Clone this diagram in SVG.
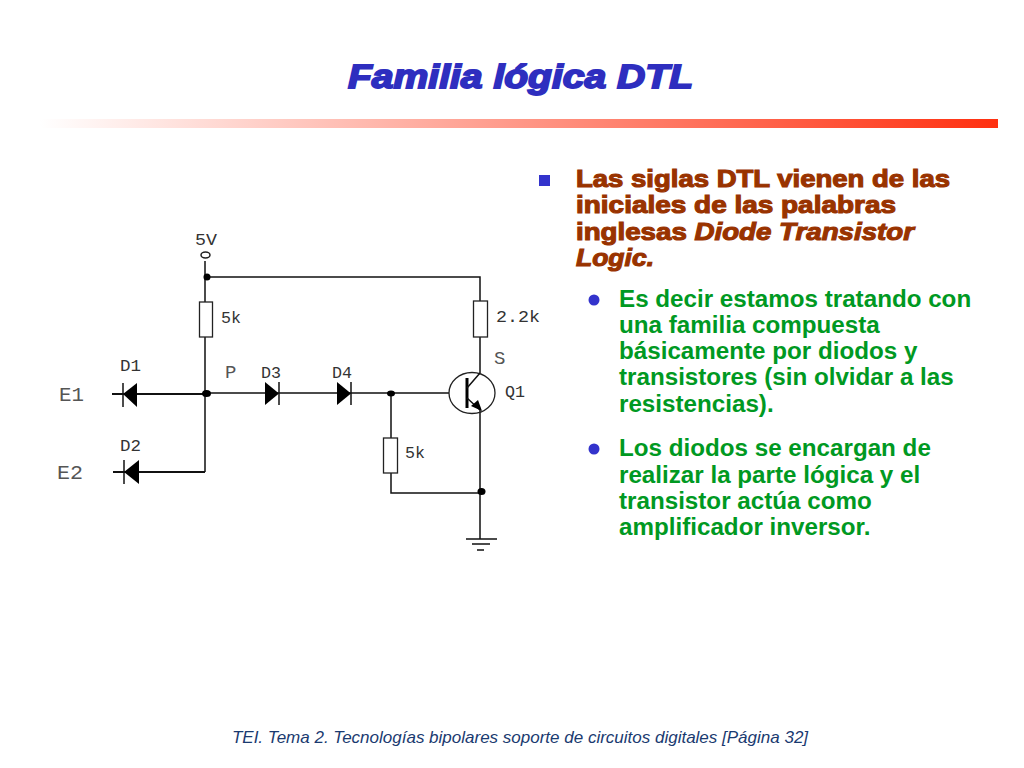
<svg xmlns="http://www.w3.org/2000/svg" width="1024" height="768" viewBox="0 0 1024 768">
<style>
.w{fill:none;stroke:#111;stroke-width:1.5}
.wt{fill:none;stroke:#111;stroke-width:2}
.r{fill:#fff;stroke:#222;stroke-width:1.3}
.d{fill:#000;stroke:none}
.l{font-family:"Liberation Mono",monospace;fill:#333;font-size:16px}
.th{fill:#555}
.b{font-family:"Liberation Sans",Arial,sans-serif;font-weight:700;font-size:24.2px}
.br{fill:#993300;stroke:#993300;stroke-width:1.1;font-size:24px}
.gr{fill:#009922}
.bu{fill:#3333cc}
</style>
<defs>
<linearGradient id="g" x1="0" x2="1" y1="0" y2="0"><stop offset="0" stop-color="#fff"/><stop offset="1" stop-color="#ff3010"/></linearGradient>
</defs>
<rect width="1024" height="768" fill="#fff"/>
<rect x="40" y="119" width="958" height="9" fill="url(#g)"/>
<text x="348" y="88" textLength="345" lengthAdjust="spacingAndGlyphs" font-family="Liberation Sans,Arial,sans-serif" font-weight="700" font-style="italic" font-size="33" fill="#2e2ebf" stroke="#2e2ebf" stroke-width="1.8">Familia lógica DTL</text>
<g id="connectors">
<path class="w" d="M205 261V302M205 337V393M205 472V393"/>
<path class="w" d="M205 277H480V301M480 337V373M480 410V539"/>
<path class="wt" d="M112 394H206M113 472H205"/>
<path class="w" d="M206 393H449M391 393V438M391 473V493H481"/>
</g>
<g id="vcc"><ellipse cx="205.500" cy="255" rx="4.500" ry="3" fill="#fff" stroke="#222" stroke-width="1.500"/><text class="l" x="206" y="245" text-anchor="middle" textLength="22" lengthAdjust="spacingAndGlyphs">5V</text><circle cx="207" cy="277" r="3.500" class="d"/></g>
<g id="R1"><rect class="r" x="199.500" y="302" width="13" height="35"/><text class="l" x="221" y="323" textLength="20" lengthAdjust="spacingAndGlyphs">5k</text></g>
<g id="D1"><path class="d" d="M123 394L137 383V407Z"/><path class="w" d="M123 383V407"/><text class="l" x="120" y="371" textLength="21" lengthAdjust="spacingAndGlyphs">D1</text></g>
<g id="D2"><path class="d" d="M124 472L139 460V484Z"/><path class="w" d="M124 460V484"/><text class="l" x="120" y="451" textLength="21" lengthAdjust="spacingAndGlyphs">D2</text></g>
<g id="E1"><text class="l th" x="59" y="401" style="font-size:20px" textLength="25" lengthAdjust="spacingAndGlyphs">E1</text></g>
<g id="E2"><text class="l th" x="57" y="479" style="font-size:20px" textLength="26" lengthAdjust="spacingAndGlyphs">E2</text></g>
<g id="P"><ellipse cx="206.500" cy="393.500" rx="4.500" ry="3.500" class="d"/><text class="l th" x="225" y="378" style="font-size:19px">P</text></g>
<g id="D3"><path class="d" d="M265 382L279 393.500L265 405Z"/><path class="w" d="M279 382V405"/><text class="l" x="261" y="378" textLength="20" lengthAdjust="spacingAndGlyphs">D3</text></g>
<g id="D4"><path class="d" d="M337 382L351 393.500L337 405Z"/><path class="w" d="M351 382V405"/><text class="l" x="332" y="378" textLength="20" lengthAdjust="spacingAndGlyphs">D4</text></g>
<g id="n1"><ellipse cx="391" cy="393.500" rx="4" ry="3" class="d"/></g>
<g id="R2"><rect class="r" x="383.500" y="438" width="14" height="35"/><text class="l" x="405" y="458" textLength="20" lengthAdjust="spacingAndGlyphs">5k</text></g>
<g id="R3"><rect class="r" x="473.500" y="301" width="14" height="36"/><text class="l" x="496" y="322" textLength="44" lengthAdjust="spacingAndGlyphs">2.2k</text></g>
<g id="S"><text class="l th" x="494" y="364" style="font-size:19px">S</text></g>
<g id="Q1"><ellipse cx="472" cy="393" rx="23" ry="20.500" fill="none" stroke="#222" stroke-width="1.300"/>
<path d="M467 378V408" stroke="#000" stroke-width="3" fill="none"/><path class="w" d="M467 388L480 373M467 398L480 410"/><path class="d" d="M482 411L471 406L478 400Z"/><text class="l" x="505" y="397" textLength="20" lengthAdjust="spacingAndGlyphs">Q1</text></g>
<g id="n2"><ellipse cx="481.500" cy="491.500" rx="4" ry="3.500" class="d"/></g>
<g id="gnd"><path class="w" d="M466 539H497M472 544H490M477 550H484"/></g>
<g id="bullet1"><rect class="bu" x="539" y="175" width="11" height="11"/>
<text class="b br" x="576" y="187" textLength="374" lengthAdjust="spacingAndGlyphs">Las siglas DTL vienen de las</text>
<text class="b br" x="576" y="213" textLength="320" lengthAdjust="spacingAndGlyphs">iniciales de las palabras</text>
<text class="b br" x="576" y="240" textLength="338" lengthAdjust="spacingAndGlyphs">inglesas <tspan font-style="italic">Diode Transistor</tspan></text>
<text class="b br" x="576" y="266" font-style="italic" textLength="78" lengthAdjust="spacingAndGlyphs">Logic.</text></g>
<g id="bullet2"><circle class="bu" cx="594" cy="300" r="5.500"/>
<text class="b gr" x="619" y="307">Es decir estamos tratando con</text>
<text class="b gr" x="619" y="333">una familia compuesta</text>
<text class="b gr" x="619" y="359">básicamente por diodos y</text>
<text class="b gr" x="619" y="385">transistores (sin olvidar a las</text>
<text class="b gr" x="619" y="412">resistencias).</text></g>
<g id="bullet3"><circle class="bu" cx="594" cy="449" r="5.500"/>
<text class="b gr" x="619" y="456">Los diodos se encargan de</text>
<text class="b gr" x="619" y="483">realizar la parte lógica y el</text>
<text class="b gr" x="619" y="509">transistor actúa como</text>
<text class="b gr" x="619" y="535">amplificador inversor.</text></g>
<text x="520" y="743" text-anchor="middle" font-family="Liberation Sans,Arial,sans-serif" font-style="italic" font-size="17" fill="#1a3a70">TEI. Tema 2. Tecnologías bipolares soporte de circuitos digitales [Página 32]</text>
</svg>
